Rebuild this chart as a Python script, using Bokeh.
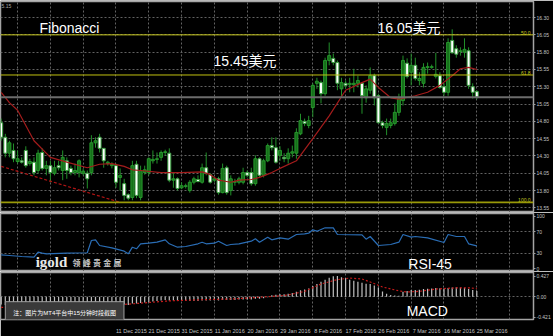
from bokeh.plotting import figure
from bokeh.layouts import column
from bokeh.models import Range1d, FixedTicker, Span, Label, NumeralTickFormatter
from bokeh.core.properties import value
from bokeh.embed import file_html
from bokeh.resources import INLINE

# ---------------- data (daily XAG candles) ----------------
opens = [14.78, 14.57, 14.34, 14.38, 14.22, 14.23, 14.38, 14.19, 14.21, 14.09,
         14.35, 14.12, 14.16, 14.05, 14.16, 14.09, 14.23, 14.12, 14.06, 14.06,
         14.05, 14.05, 14.06, 14.49, 14.57, 14.41, 14.19, 14.16, 14.16, 13.99,
         13.90, 13.74, 13.70, 14.18, 13.70, 14.06, 14.06, 14.23, 14.25, 14.28,
         14.35, 14.34, 13.95, 13.97, 13.84, 13.86, 13.80, 13.92, 13.96, 13.92,
         14.13, 14.03, 13.95, 13.97, 13.77, 14.13, 13.80, 13.92, 13.92, 13.92,
         14.06, 14.06, 13.90, 14.26, 14.02, 14.23, 14.45, 14.42, 14.31, 14.28,
         14.26, 14.34, 14.34, 14.62, 14.80, 14.74, 15.00, 15.35, 15.36, 15.20,
         15.68, 15.71, 15.65, 15.27, 15.35, 15.33, 15.33, 15.35, 15.35, 15.14,
         15.25, 15.46, 15.17, 14.78, 14.71, 14.74, 14.77, 14.93, 15.10, 15.64,
         15.51, 15.61, 15.39, 15.35, 15.58, 15.58, 15.45, 15.46, 15.30, 15.22,
         15.97, 15.85, 15.81, 15.80, 15.82, 15.30, 15.23]
highs = [14.84, 14.62, 14.52, 14.48, 14.38, 14.28, 14.44, 14.26, 14.28, 14.39,
         14.41, 14.23, 14.23, 14.23, 14.23, 14.38, 14.28, 14.16, 14.19, 14.25,
         14.12, 14.09, 14.60, 14.57, 14.62, 14.41, 14.23, 14.21, 14.19, 14.12,
         13.97, 13.76, 14.23, 14.23, 14.16, 14.16, 14.28, 14.38, 14.35, 14.38,
         14.39, 14.41, 14.06, 13.99, 13.92, 13.90, 13.95, 14.00, 14.02, 14.19,
         14.35, 14.05, 14.00, 14.00, 14.19, 14.16, 14.02, 13.97, 14.00, 14.13,
         14.09, 14.13, 14.31, 14.28, 14.26, 14.48, 14.57, 14.57, 14.44, 14.34,
         14.41, 14.45, 14.70, 14.91, 14.84, 14.88, 15.35, 15.43, 15.39, 15.72,
         15.94, 15.78, 15.68, 15.43, 15.39, 15.43, 15.56, 15.46, 15.35, 15.32,
         15.58, 15.49, 15.20, 14.81, 14.84, 14.84, 15.06, 15.20, 15.75, 15.71,
         15.78, 15.72, 15.51, 15.64, 15.65, 15.62, 15.79, 15.51, 15.35, 16.00,
         16.13, 15.90, 15.87, 16.00, 15.87, 15.35, 15.25]
lows = [14.52, 14.28, 14.28, 14.21, 14.19, 14.19, 14.13, 14.16, 14.02, 14.05,
        14.09, 14.02, 13.92, 14.02, 14.09, 13.95, 13.97, 14.02, 14.02, 13.99,
        14.02, 13.83, 14.02, 14.42, 14.35, 14.13, 14.16, 14.12, 13.84, 13.80,
        13.66, 13.66, 13.66, 13.69, 13.66, 14.03, 14.02, 14.19, 14.19, 14.23,
        14.31, 13.92, 13.84, 13.80, 13.82, 13.83, 13.77, 13.89, 13.92, 13.90,
        14.02, 13.90, 13.92, 13.74, 13.76, 13.74, 13.73, 13.87, 13.89, 13.89,
        13.99, 13.87, 13.87, 13.99, 13.99, 14.21, 14.38, 14.19, 14.23, 14.21,
        14.19, 14.28, 14.26, 14.60, 14.73, 14.70, 14.86, 15.27, 15.06, 15.17,
        15.61, 15.61, 15.25, 15.14, 15.27, 15.22, 15.22, 15.29, 14.91, 15.07,
        15.20, 15.03, 14.77, 14.70, 14.60, 14.70, 14.74, 14.88, 15.03, 15.42,
        15.32, 15.39, 15.32, 15.29, 15.49, 15.56, 15.42, 15.27, 15.17, 15.17,
        15.78, 15.72, 15.75, 15.72, 15.27, 15.13, 15.12]
closes = [14.57, 14.34, 14.49, 14.26, 14.26, 14.21, 14.16, 14.22, 14.06, 14.34,
          14.12, 14.16, 14.06, 14.13, 14.13, 14.28, 14.09, 14.06, 14.09, 14.23,
          14.08, 13.97, 14.49, 14.52, 14.41, 14.23, 14.21, 14.18, 13.92, 14.02,
          13.73, 13.69, 14.16, 13.73, 14.09, 14.10, 14.26, 14.25, 14.26, 14.35,
          14.36, 13.95, 13.97, 13.83, 13.87, 13.87, 13.92, 13.97, 13.93, 14.13,
          14.05, 13.92, 13.97, 13.77, 14.12, 13.77, 13.97, 13.93, 13.97, 14.06,
          14.02, 13.90, 14.26, 14.02, 14.23, 14.45, 14.42, 14.21, 14.38, 14.26,
          14.34, 14.36, 14.64, 14.81, 14.77, 14.81, 15.32, 15.38, 15.20, 15.68,
          15.75, 15.65, 15.35, 15.36, 15.32, 15.35, 15.35, 15.39, 15.17, 15.27,
          15.46, 15.14, 14.78, 14.74, 14.77, 14.78, 14.93, 15.13, 15.68, 15.45,
          15.61, 15.42, 15.42, 15.58, 15.59, 15.59, 15.48, 15.29, 15.22, 15.94,
          15.79, 15.77, 15.82, 15.84, 15.32, 15.22, 15.15]

# moving average (red line), sampled points
ma_idx = [0, 2, 4, 8, 12, 16, 21, 24, 27, 30, 32, 34, 39, 44, 49, 51, 53, 56, 58, 61,
          63, 66, 68, 72, 76, 80, 84, 88, 90, 92, 95, 97, 101, 104, 107, 110, 112, 114, 116]
ma_val = [15.22, 15.07, 14.96, 14.52, 14.28, 14.21, 14.13, 14.18, 14.19, 14.15,
          14.10, 14.09, 14.06, 14.06, 14.07, 14.03, 13.95, 13.92, 13.95, 13.96,
          13.99, 14.06, 14.12, 14.23, 14.55, 14.88, 15.25, 15.36, 15.41, 15.29,
          15.14, 15.12, 15.17, 15.22, 15.32, 15.46, 15.56, 15.58, 15.55]

# dashed trend line
trend_idx = [0, 29]
trend_val = [14.15, 13.63]

# Fibonacci levels
fib_levels = [16.05, 15.47, 13.63]
fib_names = ["50.0", "61.8", "100.0"]

# RSI-45
rsi_idx = [0, 2, 5, 8, 9, 10, 11, 16, 21, 22, 23, 24, 27, 30, 31, 32, 33, 34, 36, 38,
           40, 41, 43, 45, 48, 49, 50, 52, 53, 55, 56, 58, 61, 62, 63, 65, 66, 68, 70, 72,
           74, 75, 76, 77, 79, 81, 82, 88, 89, 90, 92, 95, 97, 98, 100, 101, 104, 108, 109,
           111, 113, 114, 116]
rsi_val = [26.6, 25.3, 23.4, 22.1, 31.6, 29.7, 28.5, 29.7, 30.5, 53.8, 55.1, 44.3, 39.9,
           33.5, 28.5, 41.1, 38.0, 47.5, 48.7, 50.6, 55.1, 47.5, 41.1, 42.4, 47.5, 50.6,
           47.5, 48.7, 52.5, 44.3, 46.2, 47.5, 52.5, 57.0, 50.6, 60.1, 55.1, 58.9, 56.3,
           65.2, 66.5, 67.7, 74.1, 71.5, 77.9, 77.9, 65.2, 64.6, 56.3, 61.4, 44.3, 46.2,
           50.6, 65.2, 60.1, 61.4, 58.9, 50.0, 65.2, 61.4, 61.4, 47.5, 43.7]

# MACD main (histogram) and signal (dotted)
macd_hist = [-0.16, -0.17, -0.17, -0.18, -0.18, -0.18, -0.19, -0.19, -0.19, -0.19,
             -0.19, -0.19, -0.19, -0.19, -0.19, -0.18, -0.18, -0.18, -0.18, -0.18,
             -0.18, -0.18, -0.15, -0.14, -0.14, -0.14, -0.14, -0.14, -0.15, -0.15,
             -0.16, -0.17, -0.14, -0.14, -0.13, -0.12, -0.11, -0.10, -0.09, -0.08,
             -0.07, -0.08, -0.08, -0.09, -0.09, -0.09, -0.09, -0.09, -0.09, -0.08,
             -0.08, -0.08, -0.08, -0.08, -0.07, -0.07, -0.07, -0.07, -0.06, -0.06,
             -0.06, -0.06, -0.04, -0.04, -0.03, -0.01,
             0.03, 0.04, 0.05, 0.05, 0.06, 0.075, 0.10, 0.135, 0.15, 0.17,
             0.22, 0.26, 0.31, 0.35, 0.39, 0.42, 0.43, 0.40, 0.38, 0.35,
             0.33, 0.31, 0.29, 0.27, 0.26, 0.23, 0.19, 0.11, 0.06, 0.035,
             0.025, 0.02, 0.10, 0.12, 0.14, 0.14, 0.145, 0.16, 0.165, 0.17,
             0.18, 0.175, 0.17, 0.18, 0.19, 0.195, 0.19, 0.185, 0.16, 0.14, 0.12]
sig_idx = [0, 10, 20, 24, 32, 41, 49, 57, 65, 68, 70, 74, 78, 82, 85, 88, 90, 93, 97, 99,
           102, 106, 111, 114, 116]
sig_val = [-0.22, -0.21, -0.20, -0.196, -0.147, -0.086, -0.062, -0.044, 0.0, 0.018,
           0.037, 0.11, 0.262, 0.353, 0.385, 0.366, 0.304, 0.201, 0.121, 0.097,
           0.110, 0.158, 0.183, 0.183, 0.170]

# axes
price_ticks = [13.55, 13.80, 14.05, 14.30, 14.55, 14.80, 15.05, 15.30, 15.55, 15.80, 16.05, 16.30]
rsi_ticks = [0, 30, 70, 100]
macd_ticks = [-0.421, 0, 0.427]
macd_tick_labels = ["-0.421", "0.00", "0.427"]
date_idx = [28, 36, 44, 52, 60, 68, 76, 84, 92, 100, 108, 116]
date_labels = ["11 Dec 2015", "21 Dec 2015", "31 Dec 2015", "11 Jan 2016", "20 Jan 2016",
               "29 Jan 2016", "8 Feb 2016", "17 Feb 2016", "26 Feb 2016", "7 Mar 2016",
               "16 Mar 2016", "25 Mar 2016"]
grid_idx = [4, 12, 20, 28, 36, 44, 52, 60, 68, 76, 84, 92, 100, 108, 116, 124]

# ---------------- drawing ----------------
FONT = "Liberation Sans, Noto Sans CJK SC"
X0, X1 = -0.17, 129.83
xr = Range1d(X0, X1)


def make_fig(height, y0, y1, top, bottom, xaxis=False):
    f = figure(width=553, height=height, x_range=xr, y_range=Range1d(y0, y1),
               output_backend="svg", toolbar_location=None,
               x_axis_location="below" if xaxis else None, y_axis_location="right",
               min_border_left=0, min_border_right=20, min_border_top=top,
               min_border_bottom=bottom, background_fill_color="black",
               border_fill_color="black", outline_line_color="#a4a4a4",
               outline_line_width=1.5)
    ya = f.yaxis[0]
    ya.axis_line_color = None
    ya.major_tick_line_color = "#a0a0a0"
    ya.major_tick_out = 2
    ya.major_tick_in = 0
    ya.minor_tick_line_color = None
    ya.major_label_standoff = 1
    ya.major_label_text_font = "Liberation Sans"
    ya.major_label_text_font_size = "5px"
    ya.major_label_text_color = "#c4c4c4"
    f.xgrid.ticker = FixedTicker(ticks=grid_idx)
    for g in (f.xgrid, f.ygrid):
        g.grid_line_color = "#626262"
        g.grid_line_dash = "2 2"
        g.grid_line_width = 1
    return f


# --- main price panel ---
p = make_fig(212, 13.483, 16.532, 1, 0)
p.yaxis[0].ticker = FixedTicker(ticks=price_ticks)
p.yaxis[0].formatter = NumeralTickFormatter(format="0.00")

idx = list(range(len(closes)))
bull = [i for i in idx if closes[i] >= opens[i]]
bear = [i for i in idx if closes[i] < opens[i]]
p.segment(x0=idx, y0=lows, x1=idx, y1=highs, line_color="#22902a", line_width=1)
p.vbar(x=bull, width=0.72, bottom=[opens[i] for i in bull], top=[closes[i] for i in bull],
       fill_color="#16701a", line_color="#26962c", line_width=1)
p.vbar(x=bear, width=0.72, top=[opens[i] for i in bear], bottom=[closes[i] for i in bear],
       fill_color="#ffffff", line_color="#3aa040", line_width=1)

p.line(ma_idx, ma_val, line_color="#a41c1c", line_width=1.2)
p.line(trend_idx, trend_val, line_color="#b01414", line_width=1.2, line_dash="3 2")

fib_colors = ["#c8c81e", "#c0c010", "#9a9a08"]
fib_widths = [1, 1, 1.6]
for lvl, col, w in zip(fib_levels, fib_colors, fib_widths):
    p.add_layout(Span(location=lvl, dimension="width", line_color=col, line_width=w))
p.text(x=[X1 - 0.7] * len(fib_levels), y=fib_levels, text=fib_names,
       text_font=value("Liberation Sans"), text_font_size="5px", text_color="#c8c820",
       text_align="right", text_baseline="bottom")

last = closes[-1]
p.add_layout(Span(location=last, dimension="width", line_color="#6c6c6c", line_width=2))
p.add_layout(Label(x=X1, y=last, x_offset=3, text="%.2f" % last, text_font="Liberation Sans",
                   text_font_size="5px", text_color="black", text_baseline="middle",
                   background_fill_color="#ececec", padding=1))
p.add_layout(Label(x=X0, y=16.532, x_offset=1, y_offset=-2, text="5.15", text_font="Liberation Sans",
                   text_font_size="5px", text_color="#a8a8a8", text_baseline="top"))

for tx, xx, yy in [("Fibonacci", 9.34, 16.15), ("15.45美元", 51.8, 15.665), ("16.05美元", 91.8, 16.156)]:
    p.add_layout(Label(x=xx, y=yy, text=tx, text_font=FONT, text_font_size="14px",
                       text_color="white", text_baseline="middle"))

# --- RSI panel ---
r = make_fig(59, -5.1, 105.1, 1, 0)
r.yaxis[0].ticker = FixedTicker(ticks=rsi_ticks)
r.ygrid.ticker = FixedTicker(ticks=[30, 70])
r.line(rsi_idx, rsi_val, line_color="#2a6db5", line_width=1.2)
r.add_layout(Label(x=99.3, y=10.1, text="RSI-45", text_font=FONT, text_font_size="14px",
                   text_color="white", text_baseline="middle"))
r.add_layout(Label(x=8.4, y=12.5, text="igold", text_font="Liberation Serif",
                   text_font_style="bold", text_font_size="15px", text_color="#e8e8e8",
                   text_baseline="middle"))
r.add_layout(Label(x=17.4, y=9.5, text="领   峰   贵   金   属", text_font=FONT,
                   text_font_style="bold", text_font_size="8px", text_color="#c8c8c8",
                   text_baseline="middle"))

# --- MACD panel ---
m = make_fig(65, -0.471, 0.5, 1, 11, xaxis=True)
m.yaxis[0].ticker = FixedTicker(ticks=macd_ticks)
m.yaxis[0].major_label_overrides = dict(zip(macd_ticks, macd_tick_labels))
m.ygrid.ticker = FixedTicker(ticks=[0])
m.vbar(x=idx, width=0.3, bottom=0, top=macd_hist, fill_color="#bcbcbc", line_color=None)
m.line(sig_idx, sig_val, line_color="#c41a1a", line_width=1.2, line_dash="2 2")
m.add_layout(Label(x=98.9, y=-0.288, text="MACD", text_font=FONT, text_font_size="14px",
                   text_color="white", text_baseline="middle"))

shift = 3.75  # labels start at the grid line, as in MT4
xa = m.xaxis[0]
date_ticks = [d + shift for d in date_idx]
xa.ticker = FixedTicker(ticks=date_ticks)
xa.major_label_overrides = dict(zip(date_ticks, date_labels))
xa.axis_line_color = None
xa.major_tick_line_color = None
xa.minor_tick_line_color = None
xa.major_label_standoff = 2
xa.major_label_text_font = "Liberation Sans"
xa.major_label_text_font_size = "5.5px"
xa.major_label_text_color = "#c4c4c4"

m.add_layout(Label(x=1.0, y=-0.33, text="注：图片为MT4平台中15分钟时段截图", text_font=FONT,
                   text_font_size="6px", text_color="white", text_baseline="middle",
                   background_fill_color="#3a3a3a", border_line_color="#a0a0a0",
                   padding=8))

layout = column(p, r, m, spacing=0)
open("out.html", "w").write(file_html(layout, INLINE))
